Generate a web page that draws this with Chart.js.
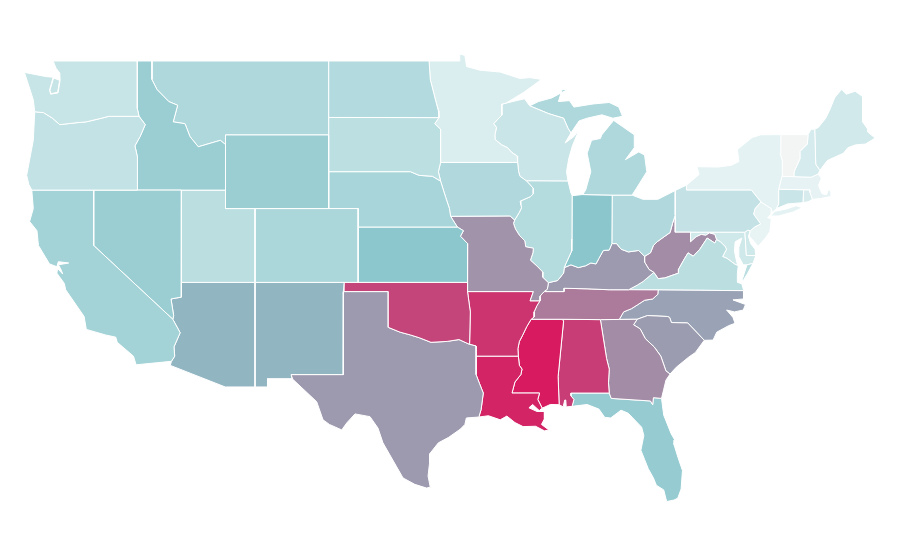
<!DOCTYPE html>
<html>
<head>
<meta charset="utf-8">
<title>US states choropleth</title>
<script src="https://cdn.jsdelivr.net/npm/chart.js@4"></script>
<style>
  html, body { margin: 0; background: #fff; }
  canvas { display: block; }
</style>
</head>
<body>
<canvas id="map" width="900" height="560"></canvas>
<script>
// ---------------------- STATE VALUES ------------------------
const stateNames = ["WA","OR","CA","NV","ID","MT","WY","UT","CO","AZ","NM","ND","SD","NE","KS","OK","TX","MN","IA","MO","AR","LA","WI","IL","MI","IN","OH","KY","TN","MS","AL","GA","FL","SC","NC","VA","WV","PA","NY","VT","NH","ME","MA","CT","RI","NJ","DE","MD","DC"];
const stateValues = [21.5,23.4,38,42,42.5,33,42,27,34.6,57.6,57.6,31,26.6,36,49,90,70,12,32,71.5,94,97.6,20.6,30.4,33,50,32,70,77.5,100,92,73,45,68.7,65.5,27,73,23,8,1,15,17,7,20.6,13.5,6,18,18,18];

// colour ramp stops
const rampValues = [0, 8, 50, 70, 100];
const rampColors = [[245,245,245],[228,242,243],[138,198,204],[157,153,174],[216,27,96]];

// ---------------------- SHARED BORDERS (lon, lat) ------------------------
const mnWi = [[-92.02,46.71],[-92.29,46.66],[-92.29,46.07],[-92.85,45.6],[-92.65,45.4],[-92.76,45],[-92.75,44.75],[-92.3,44.45],[-91.9,44.3],[-91.6,44.03],[-91.25,43.85],[-91.22,43.5]];
const iaWi = [[-91.22,43.5],[-91.15,43],[-91.06,42.75],[-90.64,42.51]];
const iaIl = [[-90.64,42.51],[-90.42,42.33],[-90.16,42.1],[-90.16,41.8],[-90.34,41.65],[-91.05,41.4],[-91,41.2],[-90.95,41.05],[-91.1,40.8],[-91.42,40.38]];
const moIl = [[-91.42,40.38],[-91.5,40.2],[-91.37,39.9],[-91.1,39.55],[-90.73,39.25],[-90.67,38.93],[-90.15,38.85],[-90.18,38.6],[-90.35,38.2],[-89.9,37.88],[-89.5,37.55],[-89.52,37.28],[-89.13,36.98]];
const moKy = [[-89.13,36.98],[-89.2,36.63],[-89.42,36.5]];
const moTn = [[-89.42,36.5],[-89.7,36.25],[-89.7,36]];
const arTn = [[-89.7,36],[-89.9,35.75],[-90.1,35.4],[-90.1,35.12],[-90.3,35]];
const arMs = [[-90.3,35],[-90.6,34.6],[-90.9,34.1],[-91.1,33.8],[-91.2,33.4],[-91.17,33]];
const laMs = [[-91.17,33],[-91.1,32.5],[-90.92,32.3],[-91,32],[-91.4,31.6],[-91.6,31]];
const laMsEast = [[-91.6,31],[-89.73,31],[-89.85,30.65],[-89.55,30.18]];
const ilKy = [[-89.13,36.98],[-88.5,37.1],[-88.1,37.5],[-88.05,37.8]];
const inKy = [[-88.05,37.8],[-87.6,37.95],[-87.1,37.8],[-86.6,37.9],[-86.25,38.05],[-85.9,38],[-85.7,38.3],[-85.4,38.73],[-85,38.75],[-84.82,39.1]];
const ohKy = [[-84.82,39.1],[-84.5,39.1],[-84.2,38.8],[-83.7,38.65],[-83,38.73],[-82.6,38.41]];
const ohWv = [[-82.6,38.41],[-82.2,38.6],[-82,39],[-81.75,39.2],[-81.4,39.4],[-80.87,39.7],[-80.7,40.2],[-80.52,40.64]];
const kyWv = [[-82.6,38.41],[-82.6,38.1],[-82.3,37.7],[-81.97,37.54]];
const kyVa = [[-81.97,37.54],[-82.7,37.05],[-83.1,36.85],[-83.68,36.6]];
const kyTn = [[-83.68,36.6],[-85,36.6],[-86.5,36.65],[-88.07,36.68],[-88.07,36.5],[-89.42,36.5]];
const tnVa = [[-83.68,36.6],[-81.68,36.59]];
const tnNc = [[-81.68,36.59],[-81.7,36.35],[-82.05,36.1],[-82.6,36.03],[-83.1,35.77],[-83.5,35.57],[-84.02,35.4],[-84.32,34.99]];
const tnSouth = [[-84.32,34.99],[-85.6,34.98],[-88.2,35],[-90.3,35]];
const gaAl = [[-85.6,34.98],[-85.18,32.87],[-85,32.3],[-85.05,31.55],[-85,31]];
const alFl = [[-85,31],[-87.6,31],[-87.6,30.85],[-87.4,30.65],[-87.52,30.28]];
const gaFl = [[-85,31],[-84.86,30.71],[-82.2,30.57],[-82.05,30.36],[-82,30.75],[-81.45,30.71]];
const alMs = [[-88.2,35],[-88.1,34.9],[-88.47,31.9],[-88.4,30.37]];
const msCoast = [[-88.4,30.37],[-89,30.38],[-89.55,30.18]];
const alCoast = [[-88.4,30.37],[-88.13,30.25],[-88.02,30.62],[-87.95,30.62],[-87.92,30.25],[-87.52,30.28]];
const flCoast = [[-87.52,30.28],[-86.5,30.38],[-85.7,30.13],[-85.3,29.68],[-84.9,29.65],[-84.2,30.07],[-83.7,29.9],[-83.4,29.65],[-82.8,29.15],[-82.65,28.7],[-82.85,27.9],[-82.6,27.4],[-82.35,26.9],[-82,26.4],[-81.8,26],[-81.3,25.75],[-81.1,25.12],[-80.6,25.2],[-80.35,25.3],[-80.12,25.8],[-80.03,26.8],[-80.33,27.5],[-80.6,28.2],[-80.55,28.45],[-80.8,28.8],[-81.3,29.8],[-81.45,30.71]];
const gaSc = [[-83.1,35],[-83.35,34.7],[-82.9,34.48],[-82.55,33.95],[-81.95,33.5],[-81.5,33],[-81.15,32.2],[-80.87,32.03]];
const gaCoast = [[-80.87,32.03],[-81.15,31.7],[-81.3,31.2],[-81.45,30.71]];
const scNc = [[-83.1,35],[-82.4,35.2],[-81.05,35.15],[-80.9,35.1],[-80.78,34.82],[-79.67,34.8],[-78.55,33.86]];
const scCoast = [[-78.55,33.86],[-79.15,33.2],[-79.6,32.95],[-80.45,32.4],[-80.87,32.03]];
const ncGa = [[-84.32,34.99],[-83.1,35]];
const ncCoast = [[-78.55,33.86],[-77.95,33.87],[-77.7,34.3],[-76.9,34.65],[-76.46,34.78],[-76.6,35.1],[-77.03,35.5],[-76.5,35.4],[-75.9,35.5],[-75.75,35.8],[-76.6,36.05],[-75.9,36.1],[-75.87,36.55]];
const vaSouth = [[-81.68,36.59],[-75.87,36.55]];
const vaWv = [[-81.97,37.54],[-81.68,37.2],[-81.22,37.24],[-80.3,37.5],[-80.3,37.7],[-79.95,38.2],[-79.65,38.6],[-79.3,38.42],[-78.87,38.77],[-78.35,39.4],[-77.83,39.13],[-77.72,39.32]];
const wvMd = [[-79.48,39.72],[-79.48,39.2],[-79.1,39.47],[-78.75,39.6],[-78.45,39.55],[-78.2,39.68],[-77.83,39.6],[-77.72,39.32]];
const potomac = [[-77.72,39.32],[-77.45,39.2],[-77.12,38.93],[-77.04,38.79],[-77.3,38.4],[-77,38.3],[-76.5,38],[-76.24,37.9]];
const delaware = [[-75.42,39.8],[-75.13,40],[-74.72,40.17],[-75.2,40.7],[-75.1,41],[-74.7,41.36]];
const mdDe = [[-75.79,39.72],[-75.69,38.46],[-75.05,38.45]];
const redRiver = [[-94.48,33.64],[-95.2,33.9],[-96,33.8],[-97.1,33.75],[-97.9,34],[-98.5,34.15],[-99.2,34.3],[-100,34.56]];
const sabine = [[-94.04,33],[-94.04,32],[-93.8,31.5],[-93.55,31],[-93.7,30.1],[-93.85,29.7]];
const arWest = [[-94.62,36.5],[-94.43,35.4],[-94.48,33.64]];
const moKs = [[-94.62,37],[-94.61,39.1],[-95.1,39.5],[-94.9,39.8],[-95.31,40]];
const neIa = [[-95.77,40.58],[-95.85,41],[-96.1,41.6],[-96.45,42.49]];
const sdNe = [[-96.45,42.49],[-97,42.75],[-97.9,42.8],[-98.5,43],[-104.05,43]];
const sdEast = [[-96.56,45.93],[-96.85,45.6],[-96.45,45.3],[-96.45,43.5]];
const ndMn = [[-97.23,49],[-97.15,48],[-96.8,46.9],[-96.6,46.3],[-96.56,45.93]];
const mtId = [[-116.05,49],[-116.05,48],[-115.7,47.45],[-114.9,46.8],[-114.3,46.6],[-114.6,45.7],[-113.8,45.6],[-113.46,44.9],[-112.9,44.35],[-111.4,44.7],[-111.05,44.47]];
const orId = [[-117.03,42],[-117.03,43.8],[-117.2,44.4],[-116.85,44.9],[-116.5,45.55],[-116.92,46]];
const waOr = [[-116.92,46],[-118.98,46],[-119.3,45.93],[-120.5,45.7],[-121.2,45.65],[-122.3,45.55],[-122.8,45.9],[-123.4,46.2],[-124,46.25]];
const nvAz = [[-114.05,37],[-114.05,36.2],[-114.75,36.1],[-114.57,35.2],[-114.63,35]];
const caAz = [[-114.63,35],[-114.13,34.27],[-114.55,33.5],[-114.5,33],[-114.72,32.72]];
const wiMi = [[-90.4,46.57],[-89.1,46.14],[-88.1,45.9],[-87.8,45.35],[-87.6,45.1]];
const nyPa = [[-75.35,42],[-79.76,42],[-79.76,42.27]];
const nyVt = [[-73.27,42.75],[-73.25,43.6],[-73.4,44],[-73.35,45.01]];
const vtNh = [[-71.5,45.01],[-71.55,44.5],[-72.05,44.1],[-72.05,43.7],[-72.45,43],[-72.46,42.73]];
const nhMe = [[-71.05,45.3],[-70.98,43.4],[-70.7,43.07]];
const nhMa = [[-70.82,42.87],[-71.3,42.7],[-72.46,42.73]];
const ctMa = [[-73.5,42.05],[-71.8,42.02]];
const riMa = [[-71.8,42.02],[-71.38,42.02],[-71.38,41.9],[-71.2,41.5]];

function rev(part) { return part.slice().reverse(); }
function chain(...parts) { return parts.flat(); }

// ---------------------- STATE OUTLINES ------------------------
const stateRings = {
  WA: [
    chain([[-124.7,48.38],[-123.2,48.15],[-122.75,48.12],[-123,47.42],[-122.92,47.2],[-122.42,47.27],[-122.28,47.95],[-122.3,48.35],[-122.55,48.6],[-122.75,49],[-117.04,49],[-117.04,46.42]], waOr, [[-124.1,46.9]]),
    [[-122.72,48.08],[-122.97,47.42],[-122.9,47.23],[-122.45,47.3],[-122.31,47.95]]
  ],
  OR: [chain([[-124.2,42]], orId, waOr, [[-124.1,44.7],[-124.55,42.8],[-124.4,42.3]])],
  CA: [chain([[-124.2,42],[-120,42],[-120,39]], caAz, [[-117.12,32.53],[-117.3,33],[-118.4,33.75],[-118.5,34.03],[-119.2,34.15],[-120.5,34.45],[-120.65,35.15],[-121.9,36.6],[-122,36.95],[-122.5,37.5],[-122.45,37.75],[-122.1,37.45],[-122.25,37.75],[-122.4,37.95],[-121.7,38.05],[-122.4,38.12],[-122.5,37.85],[-123,38],[-123.75,39],[-123.85,39.8],[-124.35,40.3],[-124.1,41]])],
  NV: [chain([[-120,42],[-114.04,42]], nvAz, [[-120,39]])],
  ID: [chain([[-117.04,49]], mtId, [[-111.05,42]], orId, [[-117.04,46.42]])],
  MT: [chain(mtId, [[-111.05,45],[-104.05,45],[-104.05,49]])],
  WY: [[[-111.05,45],[-104.05,45],[-104.05,41],[-111.05,41]]],
  UT: [[[-114.04,42],[-111.05,42],[-111.05,41],[-109.05,41],[-109.05,37],[-114.05,37]]],
  CO: [[[-109.05,41],[-102.05,41],[-102.05,37],[-109.05,37]]],
  AZ: [chain([[-109.05,37],[-109.05,31.33],[-111.07,31.33],[-114.8,32.5]], rev(caAz), rev(nvAz))],
  NM: [[[-109.05,37],[-103,37],[-103.04,36.5],[-103.06,32],[-106.6,32],[-106.53,31.78],[-108.2,31.78],[-108.2,31.33],[-109.05,31.33]]],
  ND: [chain([[-104.05,49]], ndMn, [[-104.05,45.94]])],
  SD: [chain([[-104.05,45.94]], sdEast, [[-96.6,43]], sdNe)],
  NE: [chain(sdNe, [[-104.05,41],[-102.05,41],[-102.05,40],[-95.31,40]], neIa)],
  KS: [chain([[-102.05,40]], rev(moKs), [[-102.04,37]])],
  OK: [chain([[-103,37],[-94.62,37]], arWest, redRiver, [[-100,36.5],[-103,36.5]])],
  TX: [chain([[-103.04,36.5],[-100,36.5]], rev(redRiver), [[-94.04,33.55]], sabine, [[-94.7,29.65],[-94.8,29.3],[-95.1,29.05],[-95.9,28.6],[-96.6,28.3],[-97.2,27.7],[-97.2,27.2],[-97.3,26.5],[-97.15,25.9],[-97.4,25.85],[-98.2,26.05],[-99,26.4],[-99.43,27],[-100.36,28.3],[-100.7,29.1],[-101.24,29.72],[-102.26,29.87],[-102.82,29.38],[-103.16,29],[-104,29.3],[-104.43,29.55],[-104.86,30.53],[-106.5,31.76],[-106.6,32],[-103.06,32]])],
  MN: [chain([[-97.23,49],[-95.15,49],[-95.15,49.38],[-94.8,49.3],[-94.68,48.7],[-93.77,48.5],[-92.4,48.4],[-91.06,48.05],[-90.4,48.1],[-89.6,48],[-90.8,47.3]], mnWi, rev(sdEast), rev(ndMn))],
  IA: [chain([[-96.45,43.5]], iaWi, iaIl, [[-91.73,40.6]], neIa, [[-96.6,43]])],
  MO: [chain([[-95.77,40.58],[-91.73,40.6]], moIl, moKy, moTn, [[-90.37,36],[-90.15,36.5],[-94.62,36.5]], moKs)],
  AR: [chain(rev(arWest), [[-90.15,36.5],[-90.37,36]], arTn, arMs, [[-94.04,33],[-94.04,33.55]])],
  LA: [chain(sabine.slice(0, 1), laMs, laMsEast, [[-89.75,30.05],[-90.2,30.38],[-90.45,30.2],[-89.9,30],[-89.4,30],[-89.4,29.6],[-89.6,29.3],[-89.1,29],[-89.4,28.95],[-90,29.2],[-90.85,29.18],[-91.4,29.4],[-91.95,29.75],[-92.4,29.55],[-93.2,29.77]], rev(sabine))],
  WI: [chain(rev(iaWi), rev(mnWi), [[-91.2,46.87],[-90.75,46.95]], wiMi, [[-88,44.55],[-87.4,44.9],[-87.05,45.27],[-87.5,44.4],[-87.75,43.7],[-87.9,43],[-87.8,42.5]])],
  IL: [chain([[-87.8,42.5],[-87.6,41.85],[-87.52,41.7],[-87.53,39.35],[-87.55,38.7],[-87.95,38]], rev(ilKy), rev(moIl), rev(iaIl))],
  MI: [
    chain(wiMi, [[-87.05,45.75],[-86.5,45.9],[-85.5,46.08],[-84.75,45.9],[-84.1,46],[-84.35,46.5],[-85,46.75],[-86.1,46.67],[-87.4,46.5],[-87.7,46.85],[-88.45,46.8],[-88.2,47.45],[-87.8,47.47],[-88.9,47],[-89.8,46.8]]),
    [[-86.8,41.76],[-84.8,41.73],[-83.45,41.73],[-83.15,42.1],[-82.45,43],[-82.6,43.9],[-83,44.07],[-83.9,43.65],[-83.3,44.3],[-83.3,45],[-84.7,45.78],[-85.5,45],[-85.6,44.8],[-86.2,44.7],[-86.5,44],[-86.25,43],[-86.6,42]]
  ],
  IN: [chain([[-87.52,41.7],[-86.8,41.76],[-84.8,41.73]], rev(inKy), [[-87.95,38],[-87.55,38.7],[-87.53,39.35]])],
  OH: [chain([[-84.8,41.73],[-83.45,41.73],[-82.7,41.5],[-81.7,41.5],[-80.52,41.98]], rev(ohWv), rev(ohKy))],
  KY: [chain(ilKy, inKy, ohKy, kyWv, kyVa, kyTn, rev(moKy))],
  TN: [chain(rev(kyTn), tnVa, tnNc, tnSouth, rev(arTn), rev(moTn))],
  MS: [chain([[-90.3,35]], alMs, msCoast, rev(laMsEast), rev(laMs), rev(arMs))],
  AL: [chain([[-88.2,35]], gaAl, alFl, rev(alCoast), rev(alMs))],
  GA: [chain([[-85.6,34.98]], ncGa, gaSc, gaCoast, rev(gaFl), rev(gaAl))],
  FL: [chain(rev(alFl), gaFl.slice(1), rev(flCoast))],
  SC: [chain(scNc, scCoast, rev(gaSc))],
  NC: [chain(rev(tnNc), vaSouth, rev(ncCoast), rev(scNc), rev(ncGa))],
  VA: [
    chain(tnVa, vaSouth.slice(1), [[-76,36.92],[-76.3,37],[-76.3,37.5]], rev(potomac), rev(vaWv), kyVa.slice(1, 3)),
    [[-75.97,37.15],[-75.65,37.95],[-75.24,38.03],[-75.6,37.5],[-75.9,37.1]]
  ],
  WV: [chain(ohWv, [[-80.52,39.72]], wvMd, rev(vaWv), rev(kyWv))],
  PA: [chain([[-80.52,41.98],[-80.52,39.72],[-79.48,39.72],[-75.79,39.72],[-75.6,39.83]], delaware, nyPa)],
  NY: [
    chain([[-79.76,42.27]], rev(nyPa), [[-74.7,41.36],[-74,41],[-73.93,40.8],[-73.8,40.88],[-73.65,41],[-73.5,41.25],[-73.5,42.05]], nyVt, [[-74.7,45],[-75.3,44.85],[-76.3,44.2],[-76.2,43.55],[-76.7,43.35],[-77.6,43.25],[-79.05,43.27],[-78.9,42.85]]),
    [[-74.05,40.6],[-73.75,40.85],[-73,40.97],[-72.3,41.15],[-71.9,41.05],[-72.5,40.82],[-73.5,40.6]]
  ],
  VT: [chain(rev(nyVt), rev(vtNh))],
  NH: [chain([[-71.5,45.01],[-71.3,45.3]], nhMe, nhMa, rev(vtNh))],
  ME: [chain(rev(nhMe), [[-70.8,45.4],[-70.3,45.9],[-70,46.4],[-69.7,47],[-69.23,47.46],[-68.9,47.2],[-68.3,47.36],[-67.8,47.07],[-67.8,45.7],[-67.45,45.3],[-67.45,45.15],[-66.95,44.82],[-67.6,44.5],[-68.3,44.45],[-68.8,44.3],[-69.1,44],[-69.8,43.75],[-70.2,43.6]])],
  MA: [chain(ctMa, riMa, [[-70.65,41.55],[-70,41.65],[-69.95,41.9],[-70.1,42.05],[-70.25,41.75],[-70.55,41.8],[-70.8,42.25],[-70.6,42.65]], nhMa, [[-73.27,42.75]])],
  CT: [chain(ctMa, [[-71.85,41.32],[-72.9,41.25],[-73.65,41],[-73.5,41.25]])],
  RI: [chain(riMa, [[-71.5,41.37],[-71.85,41.32]])],
  NJ: [chain(delaware, [[-74,41],[-74.02,40.7],[-74.25,40.5],[-74,40.45],[-74.1,39.75],[-74.4,39.4],[-74.9,38.95],[-75.15,39.2],[-75.5,39.5]])],
  DE: [chain(mdDe.slice(0, 1), [[-75.6,39.83],[-75.42,39.8],[-75.55,39.5],[-75.4,39.1],[-75.1,38.8],[-75.05,38.45],[-75.69,38.46]])],
  MD: [chain([[-79.48,39.72]], mdDe, [[-75.24,38.03],[-75.65,37.95],[-75.9,37.95],[-76.2,38.4],[-76.2,38.9],[-76,39.4],[-76.45,39.2],[-76.5,38.7],[-76.4,38.3],[-76.32,38.04]], rev(potomac), rev(wvMd))],
  DC: [[[-77.12,38.93],[-77.04,39],[-76.91,38.89],[-77.04,38.79]]]
};

// ---------------------- BUILD CHART ------------------------
function colorFor(value) {
  let i = 0;
  while (i < rampValues.length - 2 && value > rampValues[i + 1]) i++;
  const t = (value - rampValues[i]) / (rampValues[i + 1] - rampValues[i]);
  const rgb = rampColors[i].map((c, k) => Math.round(c + (rampColors[i + 1][k] - c) * t));
  return `rgb(${rgb.join(",")})`;
}

const datasets = [];
stateNames.forEach((name, i) => {
  stateRings[name].forEach((ring) => {
    const closed = ring.concat([ring[0]]);
    datasets.push({
      label: name,
      data: closed.map((p) => ({ x: p[0], y: p[1] })),
      showLine: true,
      fill: "shape",
      tension: 0,
      backgroundColor: colorFor(stateValues[i]),
      borderColor: "#ffffff",
      borderWidth: 1,
      pointRadius: 0,
      pointHoverRadius: 0,
    });
  });
});

new Chart(document.getElementById("map"), {
  type: "scatter",
  data: { datasets },
  options: {
    responsive: false,
    animation: false,
    layout: { padding: 0 },
    plugins: { legend: { display: false }, tooltip: { enabled: false } },
    scales: {
      x: { type: "linear", display: false, min: -126.36, max: -65.26 },
      y: { type: "linear", display: false, min: 21.95, max: 52.306 },
    },
  },
});
</script>
</body>
</html>
